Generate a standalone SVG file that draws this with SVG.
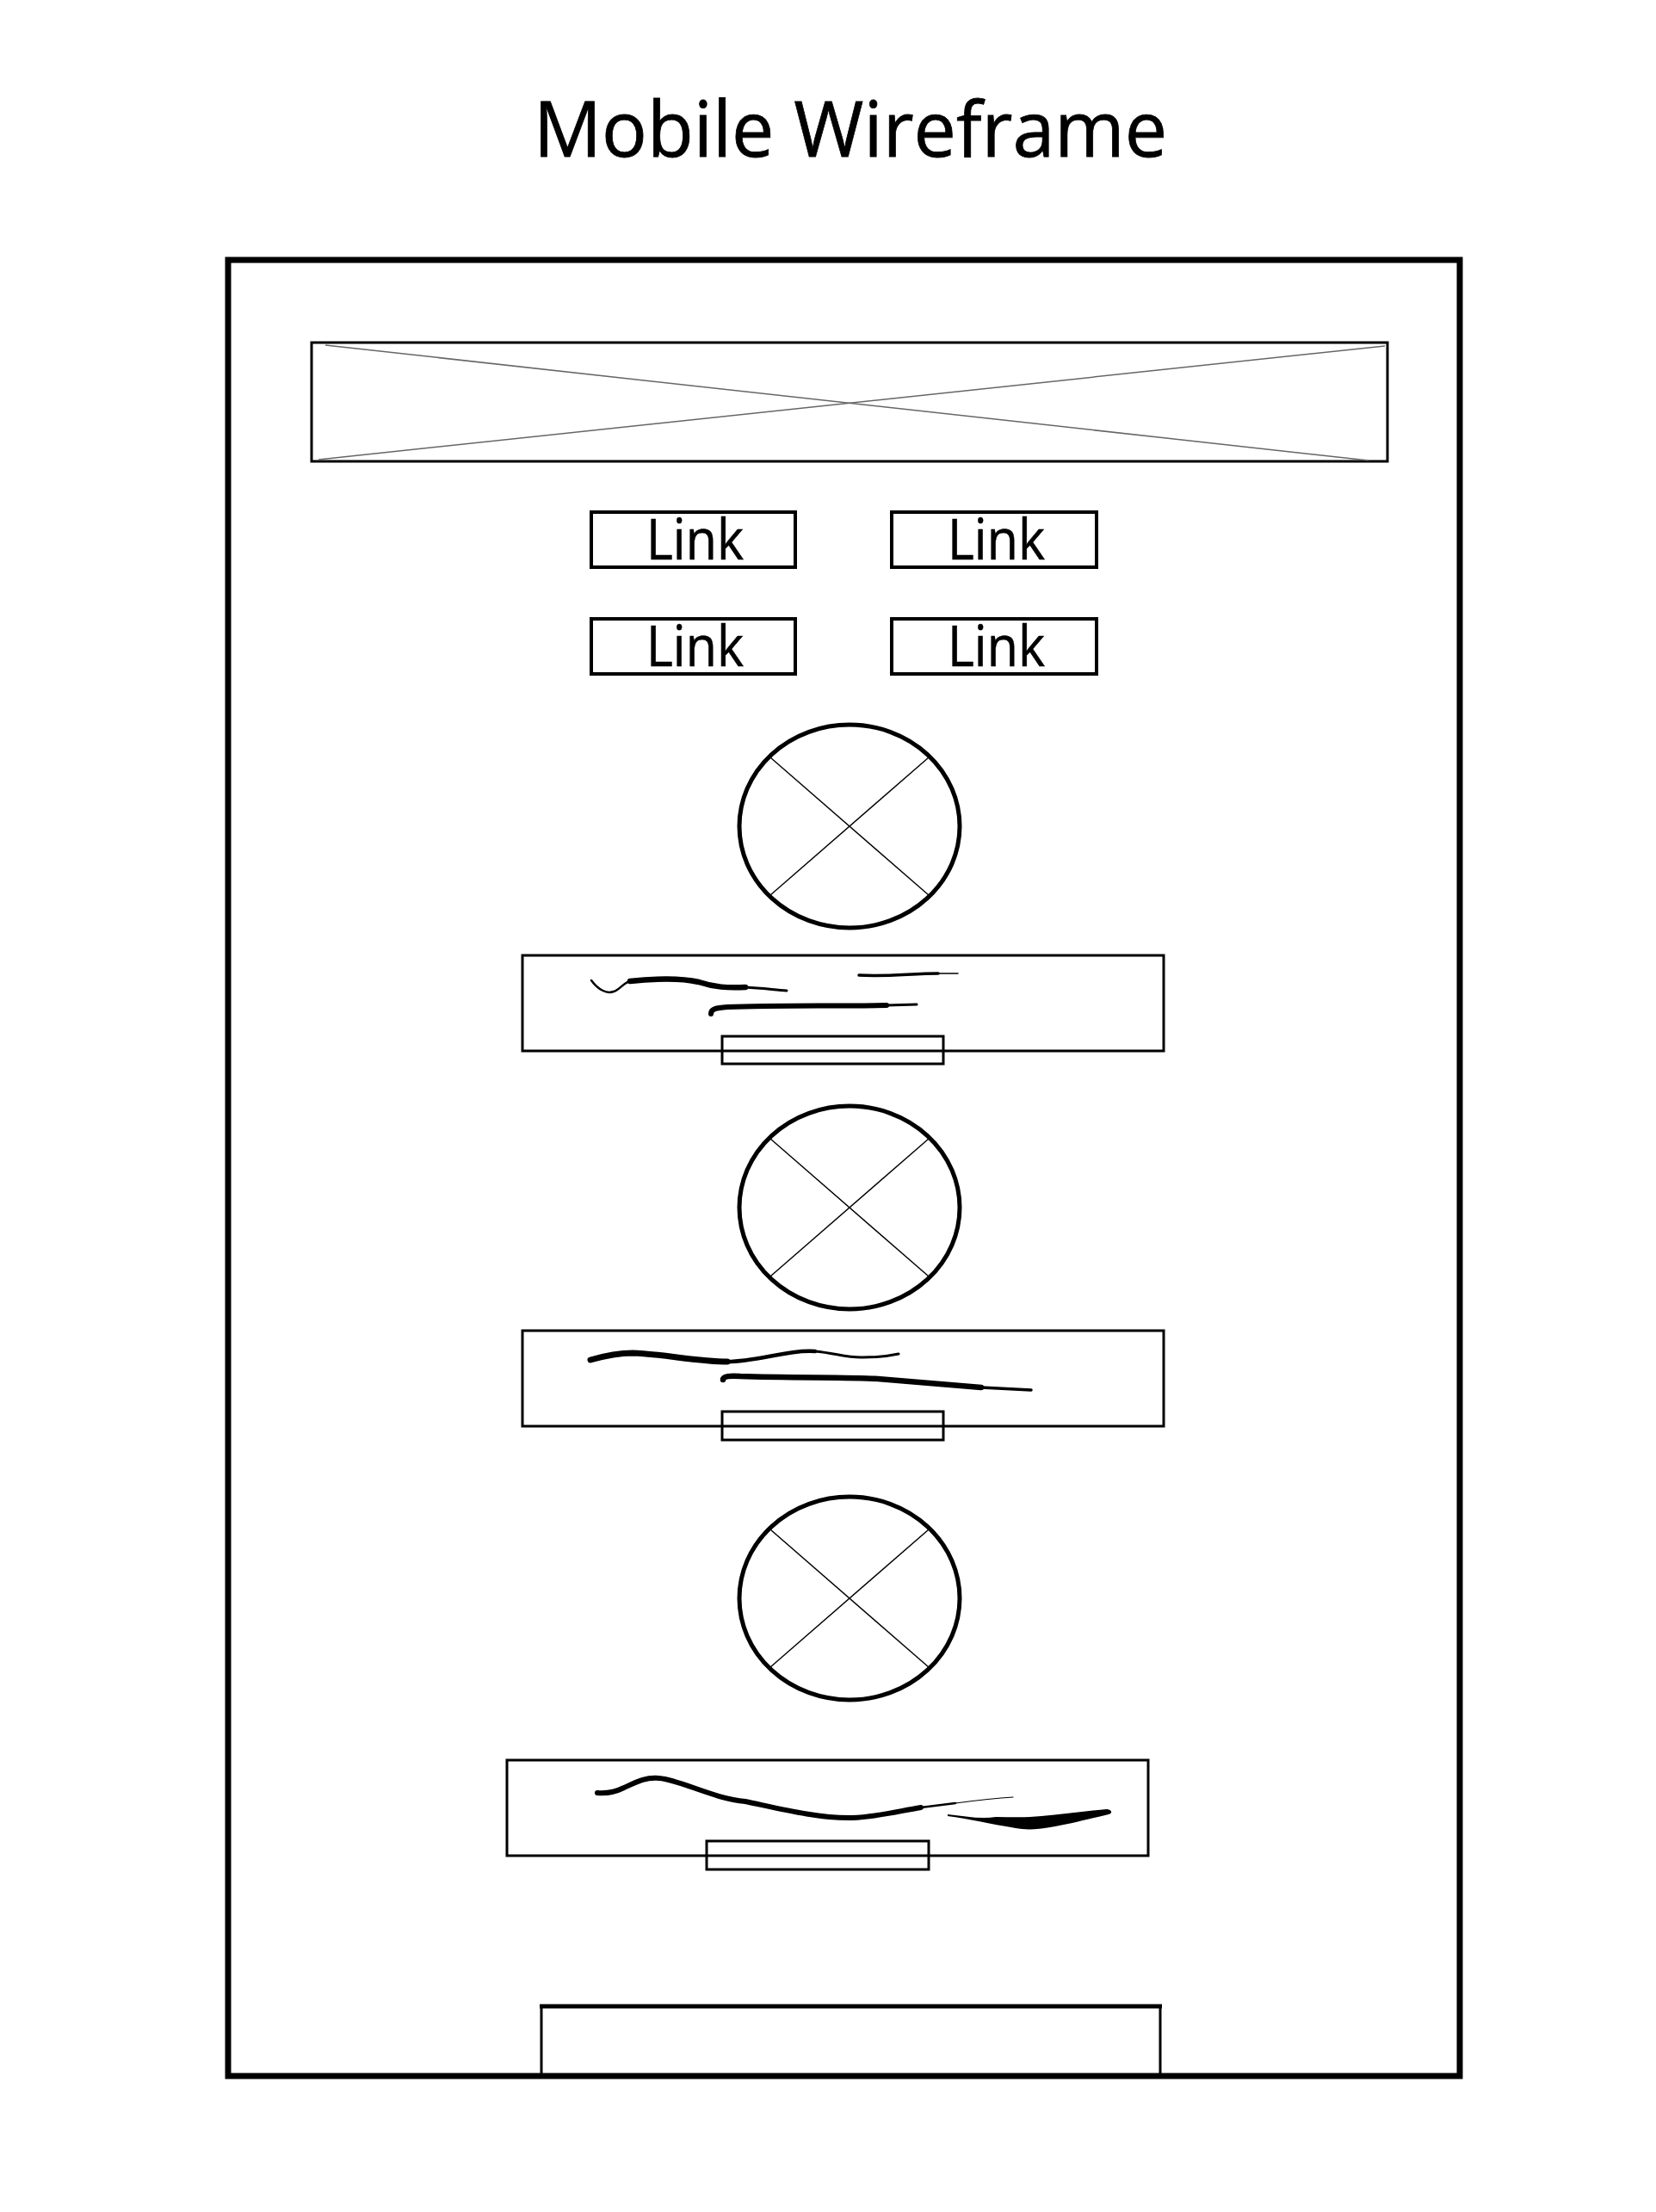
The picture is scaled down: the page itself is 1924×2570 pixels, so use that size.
<svg xmlns="http://www.w3.org/2000/svg" width="1924" height="2570" viewBox="0 0 1924 2570">
<style>
.title{font-family:"Open Sans","Noto Sans",sans-serif;font-size:90px;fill:#000;stroke:#000;stroke-width:0.8}
.lnk{font-family:"Open Sans","Noto Sans",sans-serif;font-size:65px;fill:#000;stroke:#000;stroke-width:0.6}
.box{fill:#fff;stroke:#000;stroke-width:4}
.card{fill:#fff;stroke:#000;stroke-width:3}
.btn{fill:none;stroke:#000;stroke-width:3}
.circ{fill:#fff;stroke:#000;stroke-width:5}
.x{stroke:#000;stroke-width:1.4;fill:none}
.bx{stroke:#666;stroke-width:1.5;fill:none}
.ink{fill:none;stroke:#000;stroke-linecap:round;stroke-linejoin:round}
</style>
<rect width="1924" height="2570" fill="#fff"/>
<text class="title" x="620" y="182" textLength="736" lengthAdjust="spacingAndGlyphs">Mobile Wireframe</text>

<g id="frame">
<rect x="265" y="302" width="1431" height="2110" fill="none" stroke="#000" stroke-width="7"/>
</g>

<g id="banner">
<rect x="362" y="398" width="1250" height="138" fill="#fff" stroke="#000" stroke-width="3"/>
<line class="bx" x1="378" y1="401" x2="1590" y2="535"/>
<line class="bx" x1="1609" y1="402" x2="370" y2="534"/>
</g>

<g id="link1"><rect class="box" x="687" y="595" width="237" height="64"/><text class="lnk" x="751" y="650" textLength="113" lengthAdjust="spacingAndGlyphs">Link</text></g>
<g id="link2"><rect class="box" x="1036" y="595" width="238" height="64"/><text class="lnk" x="1101" y="650" textLength="113" lengthAdjust="spacingAndGlyphs">Link</text></g>
<g id="link3"><rect class="box" x="687" y="719" width="237" height="64"/><text class="lnk" x="751" y="774" textLength="113" lengthAdjust="spacingAndGlyphs">Link</text></g>
<g id="link4"><rect class="box" x="1036" y="719" width="238" height="64"/><text class="lnk" x="1101" y="774" textLength="113" lengthAdjust="spacingAndGlyphs">Link</text></g>

<g id="image1">
<ellipse class="circ" cx="987" cy="960" rx="128" ry="118"/>
<line class="x" x1="895" y1="880" x2="1079" y2="1040"/>
<line class="x" x1="1079" y1="880" x2="895" y2="1040"/>
</g>

<g id="card1">
<rect class="card" x="607" y="1110" width="745" height="111"/>
<path class="ink" stroke-width="2.5" d="M687,1139 C695,1150 705,1155 713,1152 C720,1150 724,1142 732,1140"/>
<path class="ink" stroke-width="6.5" d="M732,1140 C760,1137 790,1136 812,1141 C830,1147 845,1148 866,1147"/>
<path class="ink" stroke-width="3" d="M866,1147 C885,1148 900,1150 914,1151"/>
<path class="ink" stroke-width="3.5" d="M998,1133 C1030,1135 1060,1131 1090,1131"/>
<path class="ink" stroke="#999" stroke-width="1.5" d="M1090,1131 L1113,1131"/>
<path class="ink" stroke-width="6" d="M826,1178 C826,1172 832,1171 845,1170 C900,1168 960,1169 1030,1168"/>
<path class="ink" stroke-width="3" d="M1030,1168 L1065,1167"/>
<rect class="btn" x="839" y="1204" width="257" height="32"/>
</g>

<g id="image2">
<ellipse class="circ" cx="987" cy="1403" rx="128" ry="118"/>
<line class="x" x1="895" y1="1323" x2="1079" y2="1483"/>
<line class="x" x1="1079" y1="1323" x2="895" y2="1483"/>
</g>

<g id="card2">
<rect class="card" x="607" y="1546" width="745" height="111"/>
<path class="ink" stroke-width="7" d="M686,1580 C700,1576 715,1572 735,1572 C770,1573 810,1582 845,1582"/>
<path class="ink" stroke-width="4.5" d="M845,1582 C880,1582 915,1568 947,1570"/>
<path class="ink" stroke-width="3" d="M947,1570 C970,1572 985,1578 1003,1577 C1020,1577 1035,1575 1044,1573"/>
<path class="ink" stroke-width="6.5" d="M840,1603 C840,1599 848,1598 860,1599 C920,1601 990,1600 1020,1602 C1060,1605 1100,1609 1140,1612"/>
<path class="ink" stroke-width="3.5" d="M1140,1612 L1198,1615"/>
<rect class="btn" x="839" y="1640" width="257" height="33"/>
</g>

<g id="image3">
<ellipse class="circ" cx="987" cy="1857" rx="128" ry="118"/>
<line class="x" x1="895" y1="1777" x2="1079" y2="1937"/>
<line class="x" x1="1079" y1="1777" x2="895" y2="1937"/>
</g>

<g id="card3">
<rect class="card" x="589" y="2045" width="745" height="111"/>
<path class="ink" stroke-width="6" d="M694,2083 C705,2084 715,2082 725,2077 C740,2070 752,2064 766,2066 C790,2068 830,2090 866,2093 C900,2100 950,2113 990,2112 C1020,2111 1045,2104 1070,2100"/>
<path class="ink" stroke-width="2.5" d="M1070,2100 C1085,2098 1095,2097 1110,2095"/>
<path class="ink" stroke="#aaa" stroke-width="1.2" d="M1110,2095 C1140,2091 1160,2089 1177,2088"/>
<path fill="#000" d="M1101,2108 C1120,2110 1140,2114 1157,2111 C1175,2111 1192,2112 1210,2110 C1235,2108 1262,2104 1286,2102 C1293,2103 1292,2107 1288,2108 C1262,2114 1240,2120 1220,2123 C1205,2126 1190,2126 1180,2124 C1150,2119 1125,2113 1101,2110 Z"/>
<rect class="btn" x="821" y="2139" width="258" height="33"/>
</g>

<g id="footer">
<path d="M629,2412 L629,2331 L1348,2331 L1348,2412" fill="none" stroke="#000" stroke-width="3"/>
<line x1="627" y1="2331" x2="1350" y2="2331" stroke="#000" stroke-width="5"/>
</g>
<g id="connectors"/>
</svg>
